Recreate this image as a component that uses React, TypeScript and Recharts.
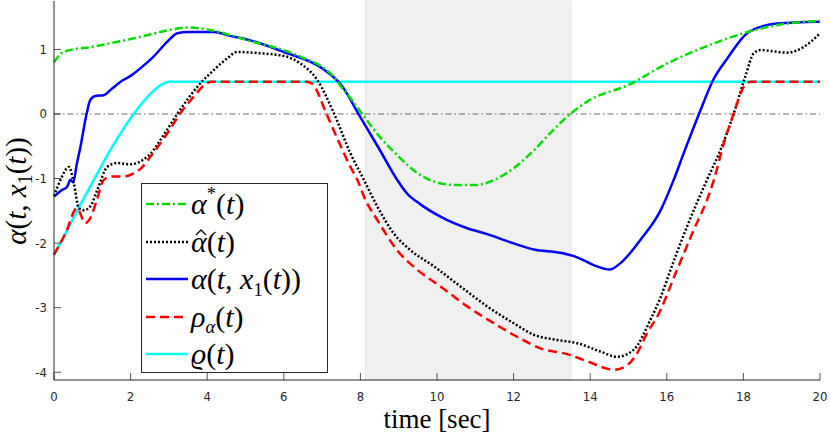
import React from 'react';
import { LineChart, Line, XAxis, YAxis, ReferenceArea, ReferenceLine, Legend } from 'recharts';

// time samples and values, one pair of arrays per curve
const alphaStarT = [0, 0.17, 0.35, 1, 1.5, 2, 2.5, 3, 3.5, 4, 4.5, 5, 5.5, 6, 6.5, 7, 7.3, 7.5, 7.75, 8, 8.5, 9, 9.5, 10, 10.5, 11, 11.5, 12, 12.5, 13, 13.5, 14, 15, 16, 17, 18, 19, 20];
const alphaStarV = [0.8, 0.93, 0.98, 1.04, 1.1, 1.16, 1.23, 1.3, 1.34, 1.31, 1.24, 1.15, 1.07, 0.99, 0.87, 0.73, 0.58, 0.42, 0.24, 0.04, -0.35, -0.66, -0.92, -1.06, -1.1, -1.1, -1.02, -0.84, -0.58, -0.27, 0.01, 0.22, 0.45, 0.78, 1.04, 1.25, 1.39, 1.44];

const alphaHatT = [0, 0.17, 0.39, 0.52, 0.65, 0.78, 0.95, 1.13, 1.39, 1.65, 2, 2.35, 2.6, 2.78, 3, 3.22, 3.83, 4.17, 4.52, 4.78, 5.39, 6, 6.44, 6.87, 7.31, 7.74, 8.09, 8.44, 8.87, 9.31, 9.92, 10.61, 11.31, 12, 12.53, 13.14, 13.66, 14.27, 14.7, 15.14, 15.57, 15.83, 16.1, 16.53, 17.05, 17.4, 17.75, 18.05, 18.27, 18.45, 19.14, 19.58, 20];
const alphaHatV = [-1.27, -1.02, -0.82, -1.08, -1.46, -1.49, -1.43, -1.18, -0.82, -0.76, -0.78, -0.7, -0.56, -0.4, -0.2, 0, 0.48, 0.68, 0.86, 0.96, 0.94, 0.9, 0.78, 0.53, 0.01, -0.61, -1.02, -1.43, -1.85, -2.11, -2.36, -2.67, -2.98, -3.24, -3.42, -3.5, -3.55, -3.68, -3.76, -3.65, -3.19, -2.85, -2.41, -1.74, -1.02, -0.56, 0.01, 0.58, 0.94, 0.99, 0.95, 1.04, 1.25];

const alphaT = [0, 0.2, 0.34, 0.43, 0.5, 0.6, 0.69, 0.85, 0.95, 1.08, 1.3, 1.47, 1.74, 2, 2.26, 2.6, 2.96, 3.22, 3.5, 3.8, 4.17, 4.6, 5.13, 6, 7, 7.3, 7.5, 7.95, 8.5, 8.96, 9.2, 9.57, 10.09, 10.79, 11.31, 11.83, 12.53, 13.22, 13.66, 14.09, 14.51, 14.79, 15.31, 15.83, 16.18, 16.44, 16.84, 17.23, 17.58, 18.14, 18.88, 20];
const alphaV = [-1.28, -1.18, -1.13, -1.02, -1.06, -0.76, -0.51, 0, 0.22, 0.28, 0.29, 0.37, 0.5, 0.59, 0.71, 0.89, 1.12, 1.25, 1.27, 1.27, 1.27, 1.21, 1.14, 0.96, 0.71, 0.57, 0.45, 0, -0.55, -1.02, -1.22, -1.4, -1.59, -1.77, -1.86, -1.97, -2.1, -2.15, -2.22, -2.34, -2.41, -2.31, -1.95, -1.5, -1.02, -0.61, 0, 0.55, 0.86, 1.27, 1.4, 1.43];

const rhoT = [0, 0.3, 0.6, 0.82, 0.95, 1.13, 1.3, 1.5, 1.82, 2.08, 2.26, 2.52, 2.96, 3.3, 3.65, 4, 4.1, 6.6, 6.74, 7.13, 7.45, 7.74, 7.92, 8.13, 8.44, 8.96, 9.48, 10.09, 10.79, 11.48, 12.09, 12.7, 13.4, 13.92, 14.62, 14.97, 15.23, 15.49, 15.75, 16.27, 16.7, 17.05, 17.23, 17.49, 17.75, 18.01, 18.2, 20];
const rhoV = [-2.18, -1.85, -1.46, -1.69, -1.61, -1.31, -1.02, -0.97, -0.97, -0.92, -0.85, -0.66, -0.3, 0.01, 0.27, 0.48, 0.5, 0.5, 0.47, -0.02, -0.45, -0.82, -1.02, -1.33, -1.64, -2.11, -2.41, -2.67, -2.98, -3.24, -3.45, -3.63, -3.72, -3.83, -3.96, -3.89, -3.7, -3.39, -3.14, -2.41, -1.8, -1.33, -1.02, -0.45, 0.01, 0.42, 0.5, 0.5];

const varrhoT = [0, 0.3, 0.65, 1.04, 1.47, 2.08, 2.5, 2.8, 3, 20];
const varrhoV = [-2.18, -1.85, -1.45, -1.02, -0.56, 0, 0.3, 0.45, 0.5, 0.5];

const xTicks = [0, 2, 4, 6, 8, 10, 12, 14, 16, 18, 20];
const yTicks = [-4, -3, -2, -1, 0, 1];
const shadeStart = 8.13;
const shadeEnd = 13.5;

const toPoints = (ts: number[], vs: number[]) => ts.map((t, i) => ({ t, v: vs[i] }));

const axisColor = '#262626';
const tickFont = "'Liberation Sans Narrow', 'DejaVu Sans Condensed', 'Liberation Sans', sans-serif";
const mathFont = "'Liberation Serif', 'DejaVu Serif', serif";

const it = (s: string) => <span style={{ fontStyle: 'italic' }}>{s}</span>;
// raised / lowered small text without growing the line box
const sup = (s: React.ReactNode) => (
  <span style={{ fontSize: '62%', position: 'relative', top: '-0.75em' }}>{s}</span>
);
const sub = (s: React.ReactNode) => (
  <span style={{ fontSize: '62%', position: 'relative', top: '0.35em' }}>{s}</span>
);

// alpha with a hat drawn above it (the hat is a small svg stroke)
const alphaHat = (
  <span style={{ position: 'relative', fontStyle: 'italic', display: 'inline-block' }}>
    α
    <svg width={12} height={7} style={{ position: 'absolute', left: 4, top: 4 }}>
      <polyline points="1,6 6,1 11,6" fill="none" stroke="#000" strokeWidth={1.3} />
    </svg>
  </span>
);

const series = [
  { key: 'alphaStar', color: '#00dd00', dash: '8 3 2 3', points: toPoints(alphaStarT, alphaStarV),
    label: <>{it('α')}{sup('*')}({it('t')})</> },
  { key: 'alphaHat', color: '#000000', dash: '2 2', points: toPoints(alphaHatT, alphaHatV),
    label: <>{alphaHat}({it('t')})</> },
  { key: 'alpha', color: '#0000ff', dash: undefined, points: toPoints(alphaT, alphaV),
    label: <>{it('α')}({it('t')}, {it('x')}{sub('1')}({it('t')}))</> },
  { key: 'rho', color: '#ff0000', dash: '9 5', points: toPoints(rhoT, rhoV),
    label: <>{it('ρ')}{sub(it('α'))}({it('t')})</> },
  { key: 'varrho', color: '#00ffff', dash: undefined, points: toPoints(varrhoT, varrhoV),
    label: <>{it('ϱ')}({it('t')})</> },
];

// draw order: cyan at the bottom, red dashes on top of it
const drawOrder = ['varrho', 'alpha', 'alphaStar', 'alphaHat', 'rho'];

const BottomTick = (props: any) => {
  const { x, y, payload } = props;
  return (
    <g>
      <line x1={x} x2={x} y1={y} y2={y - 7} stroke={axisColor} strokeWidth={0.8} />
      <text x={x} y={y + 21} textAnchor="middle" fill={axisColor} fontSize={13} fontFamily={tickFont}>
        {payload.value}
      </text>
    </g>
  );
};

const TopTick = (props: any) => {
  const { x, y } = props;
  return <line x1={x} x2={x} y1={y} y2={y + 7} stroke={axisColor} strokeWidth={0.8} />;
};

const LeftTick = (props: any) => {
  const { x, y, payload } = props;
  return (
    <g>
      <line x1={x} x2={x + 7} y1={y} y2={y} stroke={axisColor} strokeWidth={0.8} />
      <text x={x - 7} y={y + 4.5} textAnchor="end" fill={axisColor} fontSize={13} fontFamily={tickFont}>
        {payload.value}
      </text>
    </g>
  );
};

const RightTick = (props: any) => {
  const { x, y } = props;
  return <line x1={x} x2={x - 7} y1={y} y2={y} stroke={axisColor} strokeWidth={0.8} />;
};

const renderLegend = () => (
  <div
    style={{
      position: 'relative',
      width: 185,
      height: 188,
      border: `1px solid ${axisColor}`,
      background: '#ffffff',
      fontFamily: mathFont,
      fontSize: 30,
      color: '#000',
    }}
  >
    {series.map((s, i) => (
      <div key={s.key} style={{ position: 'absolute', left: 0, top: 1 + i * 37.5, height: 37.5, width: 185 }}>
        <svg width={46} height={37.5} style={{ position: 'absolute', left: 0, top: 0 }}>
          <line x1={4} x2={46} y1={19} y2={19} stroke={s.color} strokeWidth={2.5} strokeDasharray={s.dash} />
        </svg>
        <div style={{ position: 'absolute', left: 49, top: 2, lineHeight: '34px', whiteSpace: 'nowrap' }}>
          {s.label}
        </div>
      </div>
    ))}
  </div>
);

const YLabel = () => (
  <text
    transform="translate(26, 191) rotate(-90)"
    textAnchor="middle"
    fontFamily={mathFont}
    fontSize={29}
    fill="#000"
  >
    <tspan fontStyle="italic">α</tspan>
    <tspan>(</tspan>
    <tspan fontStyle="italic">t</tspan>
    <tspan>, </tspan>
    <tspan fontStyle="italic">x</tspan>
    <tspan fontSize={20} dy={6}>1</tspan>
    <tspan dy={-6}>(</tspan>
    <tspan fontStyle="italic">t</tspan>
    <tspan>))</tspan>
  </text>
);

const XLabel = () => (
  <text x={437} y={428} textAnchor="middle" fontFamily={mathFont} fontSize={27} fill="#000">
    time [sec]
  </text>
);

export default function App() {
  return (
    <div style={{ position: 'absolute', left: 0, top: 0, width: 830, height: 438, background: '#fff' }}>
      <LineChart width={830} height={438} margin={{ top: 1, right: 10, bottom: 0, left: 0 }}>
        <XAxis
          xAxisId={0}
          type="number"
          dataKey="t"
          domain={[0, 20]}
          ticks={xTicks}
          interval={0}
          height={58}
          tickSize={0}
          tickMargin={0}
          tickLine={false}
          tick={<BottomTick />}
          axisLine={{ stroke: axisColor }}
          label={{ content: () => <XLabel /> }}
        />
        <XAxis
          xAxisId="top"
          orientation="top"
          type="number"
          dataKey="t"
          domain={[0, 20]}
          ticks={xTicks}
          interval={0}
          height={0}
          tickSize={0}
          tickMargin={0}
          tickLine={false}
          tick={<TopTick />}
          axisLine={{ stroke: axisColor }}
        />
        <YAxis
          yAxisId={0}
          type="number"
          domain={[-4.12, 1.75]}
          ticks={yTicks}
          interval={0}
          width={54}
          tickSize={0}
          tickMargin={0}
          tickLine={false}
          tick={<LeftTick />}
          axisLine={{ stroke: axisColor }}
          label={{ content: () => <YLabel /> }}
        />
        <YAxis
          yAxisId="right"
          orientation="right"
          type="number"
          domain={[-4.12, 1.75]}
          ticks={yTicks}
          interval={0}
          width={0}
          tickSize={0}
          tickMargin={0}
          tickLine={false}
          tick={<RightTick />}
          axisLine={{ stroke: axisColor }}
        />
        <ReferenceArea
          xAxisId={0}
          yAxisId={0}
          x1={shadeStart}
          x2={shadeEnd}
          fill="#f0f0f0"
          fillOpacity={1}
          stroke="#e6e6e6"
          strokeWidth={1}
        />
        <ReferenceLine
          xAxisId={0}
          yAxisId={0}
          y={0}
          stroke="#444"
          strokeWidth={0.8}
          strokeDasharray="6 3 1.5 3"
        />
        {drawOrder.map((k) => {
          const s = series.find((x) => x.key === k)!;
          return (
            <Line
              key={s.key}
              xAxisId={0}
              yAxisId={0}
              data={s.points}
              dataKey="v"
              name={s.key}
              type="monotone"
              stroke={s.color}
              strokeWidth={2.5}
              strokeDasharray={s.dash}
              dot={false}
              activeDot={false}
              isAnimationActive={false}
            />
          );
        })}
        <Legend
          layout="vertical"
          align="center"
          verticalAlign="middle"
          content={renderLegend}
          wrapperStyle={{ position: 'absolute', left: 141, top: 183, width: 187, height: 190 }}
        />
      </LineChart>
    </div>
  );
}
